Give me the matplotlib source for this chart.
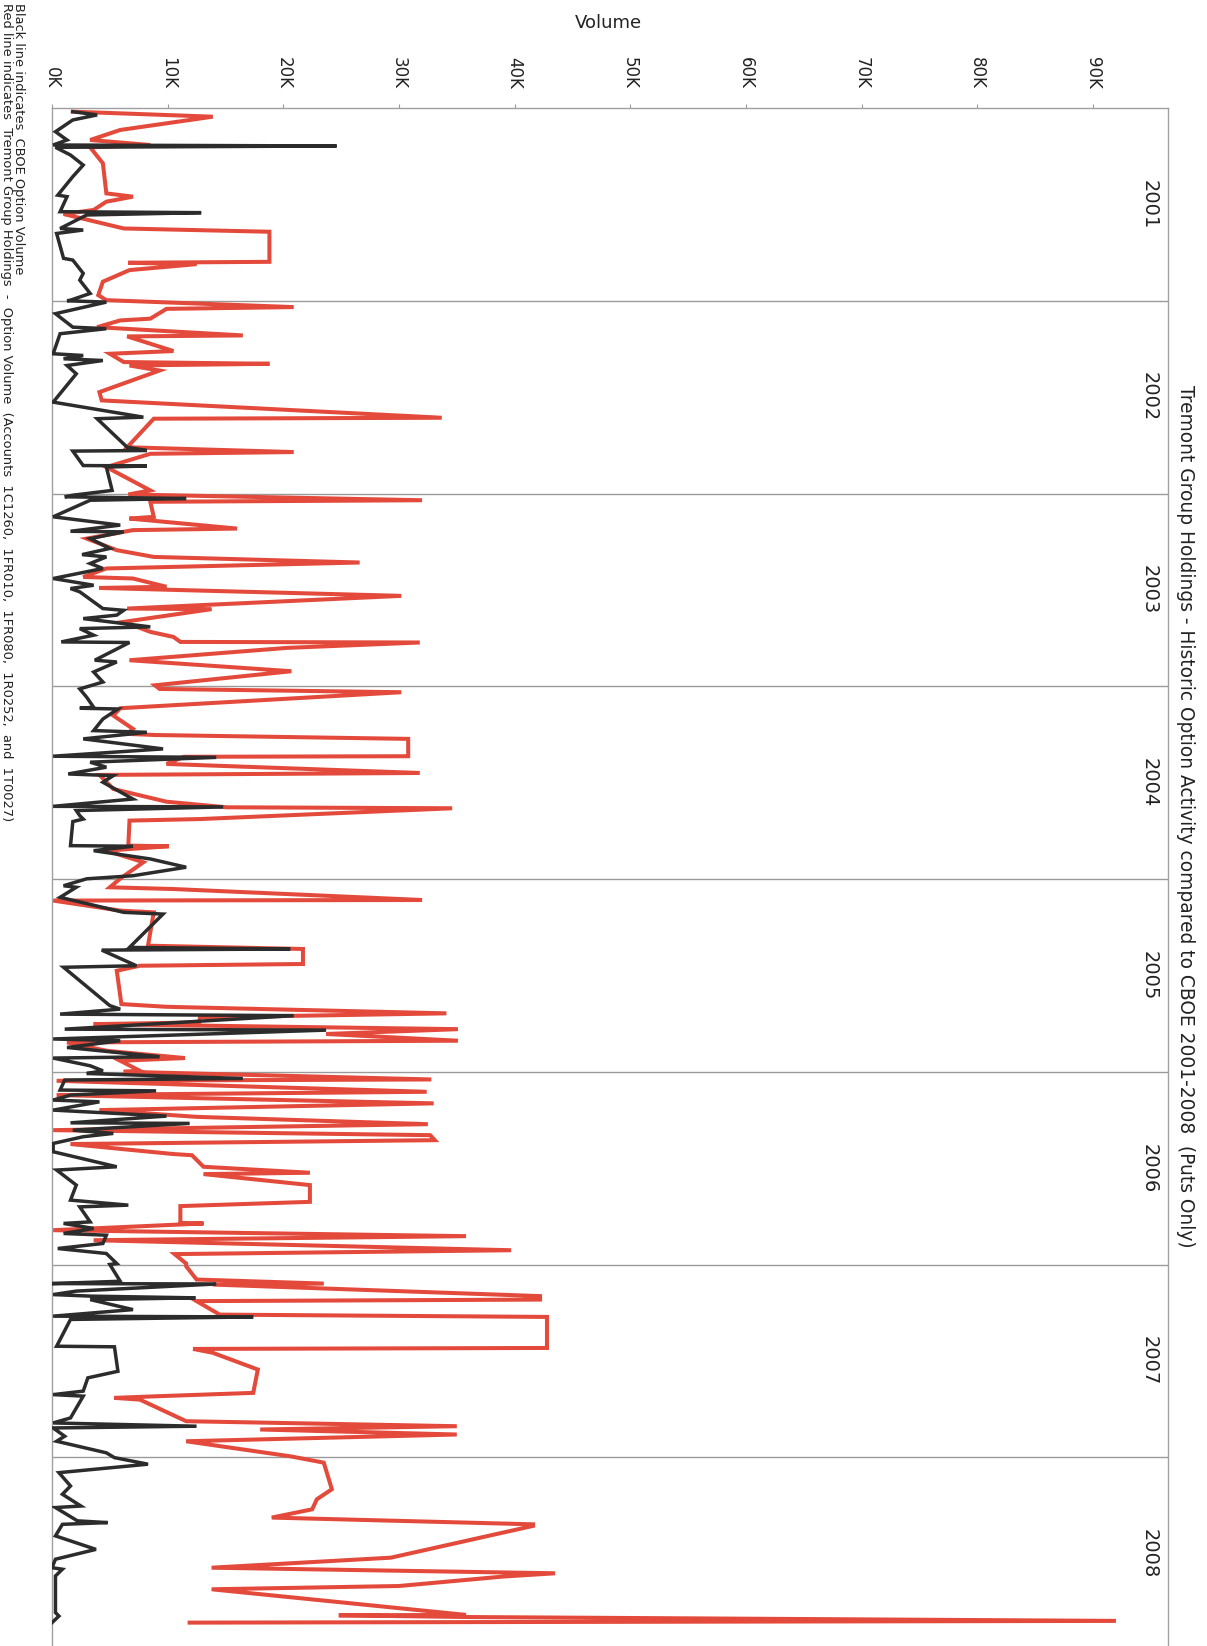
import matplotlib
matplotlib.use("Agg")
import matplotlib.pyplot as plt
import matplotlib.transforms as mtransforms

# Tremont option volume (red) - decimal year / contracts
red_t = [
    2001.019, 2001.045, 2001.114, 2001.166, 2001.192, 2001.204, 2001.287, 2001.443, 2001.460, 2001.486,
    2001.529, 2001.550, 2001.625, 2001.642, 2001.798, 2001.803, 2001.810, 2001.841, 2001.901, 2001.971, 2001.997,
    2002.033, 2002.042, 2002.093, 2002.102, 2002.137, 2002.180, 2002.185, 2002.261, 2002.275, 2002.318,
    2002.327, 2002.336, 2002.362, 2002.474, 2002.517, 2002.607, 2002.612, 2002.760, 2002.785, 2002.794,
    2002.863, 2002.984,
    2003.005, 2003.035, 2003.043, 2003.121, 2003.130, 2003.182, 2003.190, 2003.234, 2003.294, 2003.329,
    2003.358, 2003.389, 2003.433, 2003.441, 2003.484, 2003.490, 2003.531, 2003.597, 2003.600, 2003.666,
    2003.718, 2003.744, 2003.770, 2003.773, 2003.801, 2003.865, 2003.922, 2003.995,
    2004.014, 2004.031, 2004.114, 2004.152, 2004.221, 2004.247, 2004.253, 2004.273, 2004.363, 2004.366,
    2004.403, 2004.450, 2004.460, 2004.533, 2004.599, 2004.628, 2004.633, 2004.689, 2004.697, 2004.827,
    2004.830, 2004.853, 2004.913, 2004.998,
    2005.043, 2005.052, 2005.109, 2005.112, 2005.164, 2005.173, 2005.346, 2005.363, 2005.441, 2005.450,
    2005.476, 2005.649, 2005.663, 2005.697, 2005.718, 2005.744, 2005.753, 2005.779, 2005.804, 2005.839,
    2005.848, 2005.891, 2005.929, 2005.943, 2005.995,
    2006.000, 2006.040, 2006.047, 2006.104, 2006.121, 2006.164, 2006.199, 2006.234, 2006.272, 2006.303,
    2006.329, 2006.355, 2006.375, 2006.427, 2006.433, 2006.493, 2006.524, 2006.531, 2006.588, 2006.675,
    2006.697, 2006.784, 2006.787, 2006.822, 2006.853, 2006.874, 2006.926, 2006.946, 2006.995,
    2007.009, 2007.078, 2007.099, 2007.104, 2007.164, 2007.182, 2007.190, 2007.260, 2007.272, 2007.433,
    2007.438, 2007.458, 2007.545, 2007.666, 2007.683, 2007.692, 2007.701, 2007.813, 2007.839, 2007.856,
    2007.882, 2007.917, 2007.995,
    2008.028, 2008.166, 2008.218, 2008.270, 2008.313, 2008.348, 2008.356, 2008.521, 2008.573, 2008.602,
    2008.619, 2008.668, 2008.685, 2008.818, 2008.820, 2008.829, 2008.849, 2008.858,
]
red_v = [
    1800, 13900, 5900, 3300, 8500, 3300, 4400, 4700, 7000, 4700,
    3600, 1000, 6200, 18800, 18800, 6600, 12500, 6700, 4400, 4000, 4700,
    20900, 9900, 8500, 5900, 3900, 16500, 6500, 10500, 5000, 6200,
    18800, 6700, 9300, 4100, 4300, 33700, 8800, 6500, 20900, 8500,
    4700, 8500,
    6600, 32000, 8500, 8800, 6700, 16000, 7000, 3000, 5600, 8800,
    26600, 4700, 2700, 7000, 9900, 4100, 30200, 6500, 13800, 6200,
    8500, 10500, 11100, 31800, 20300, 6700, 20700, 8900,
    9300, 30200, 5900, 5300, 7000, 6500, 8900, 30800, 30800, 11400,
    9900, 31800, 4100, 5300, 9900, 15100, 34600, 12800, 6700, 6600,
    10100, 4700, 7900, 5900,
    5000, 10500, 32000, 100, 5900, 8800, 8300, 21700, 21700, 7600,
    5600, 6000, 9900, 34100, 12800, 12700, 3600, 35100, 23700, 35100,
    1300, 4700, 11500, 5900, 7600,
    6200, 32800, 400, 32400, 400, 33000, 4100, 12500, 32500, 100,
    32700, 33100, 1600, 10500, 12100, 13100, 22300, 13100, 22300, 22300,
    11100, 11100, 13100, 100, 35800, 3600, 39700, 10600, 11600,
    11600, 12500, 23500, 13900, 42200, 42200, 12500, 14500, 42800, 42800,
    12200, 13900, 17800, 17400, 9300, 5400, 7600, 11600, 35000, 18000,
    35000, 11600, 20600,
    23500, 24200, 22900, 22500, 19000, 41600, 41600, 29300, 13800, 43500,
    39000, 30000, 13800, 35800, 24800, 36100, 92000, 11900,
]

# CBOE option volume (black)
black_t = [
    2001.019, 2001.036, 2001.062, 2001.123, 2001.166, 2001.192, 2001.197, 2001.204, 2001.244, 2001.296,
    2001.356, 2001.452, 2001.460, 2001.538, 2001.543, 2001.555, 2001.625, 2001.633, 2001.651, 2001.780,
    2001.789, 2001.858, 2001.893, 2001.962, 2001.997,
    2002.000, 2002.007, 2002.067, 2002.137, 2002.145, 2002.171, 2002.275, 2002.284, 2002.301, 2002.310,
    2002.336, 2002.379, 2002.526, 2002.604, 2002.612, 2002.760, 2002.777, 2002.780, 2002.855, 2002.857,
    2002.863, 2002.984,
    2003.009, 2003.017, 2003.026, 2003.035, 2003.121, 2003.164, 2003.196, 2003.199, 2003.234, 2003.285,
    2003.317, 2003.329, 2003.363, 2003.389, 2003.441, 2003.476, 2003.493, 2003.510, 2003.597, 2003.606,
    2003.631, 2003.649, 2003.666, 2003.692, 2003.701, 2003.735, 2003.770, 2003.773, 2003.865, 2003.874,
    2003.926, 2003.978,
    2004.014, 2004.057, 2004.109, 2004.114, 2004.118, 2004.170, 2004.230, 2004.239, 2004.273, 2004.325,
    2004.363, 2004.369, 2004.394, 2004.420, 2004.455, 2004.464, 2004.498, 2004.585, 2004.623, 2004.626,
    2004.645, 2004.671, 2004.689, 2004.702, 2004.827, 2004.830, 2004.853, 2004.896, 2004.939, 2004.983,
    2004.999,
    2005.035, 2005.043, 2005.095, 2005.173, 2005.182, 2005.355, 2005.363, 2005.369, 2005.450, 2005.458,
    2005.657, 2005.675, 2005.701, 2005.709, 2005.779, 2005.784, 2005.830, 2005.839, 2005.874, 2005.922,
    2005.929, 2005.969, 2005.995,
    2006.009, 2006.035, 2006.043, 2006.095, 2006.099, 2006.121, 2006.147, 2006.156, 2006.199, 2006.230,
    2006.265, 2006.268, 2006.303, 2006.320, 2006.337, 2006.372, 2006.415, 2006.493, 2006.510, 2006.588,
    2006.666, 2006.692, 2006.701, 2006.779, 2006.787, 2006.813, 2006.839, 2006.848, 2006.891, 2006.917,
    2006.943, 2006.995,
    2007.000, 2007.087, 2007.099, 2007.101, 2007.138, 2007.156, 2007.164, 2007.173, 2007.182, 2007.234,
    2007.268, 2007.272, 2007.285, 2007.424, 2007.427, 2007.554, 2007.588, 2007.657, 2007.675, 2007.683,
    2007.796, 2007.822, 2007.839, 2007.848, 2007.891, 2007.917, 2007.977,
    2008.002, 2008.036, 2008.080, 2008.149, 2008.192, 2008.253, 2008.261, 2008.330, 2008.339, 2008.348,
    2008.408, 2008.434, 2008.478, 2008.529, 2008.573, 2008.581, 2008.616, 2008.806, 2008.824, 2008.858,
]
black_v = [
    1800, 3900, 1800, 300, 1300, 100, 24600, 300, 1600, 2700,
    1800, 500, 1300, 700, 12900, 3000, 700, 2700, 400, 1000,
    1800, 2700, 2400, 3300, 1600,
    1300, 4700, 300, 1800, 4700, 700, 100, 2700, 1000, 4400,
    1300, 2100, 100, 7900, 3900, 6500, 8200, 1800, 2700, 8200,
    4700, 5200,
    1800, 1100, 11600, 3300, 100, 5900, 1600, 6200, 3300, 5000,
    2600, 4700, 3300, 4400, 100, 3600, 1600, 2400, 4400, 6200,
    5600, 2700, 5000, 8500, 2400, 3600, 800, 6700, 3700, 5600,
    3600, 4400,
    2400, 3000, 3600, 2400, 5700, 4400, 3600, 8200, 2700, 9600,
    100, 14200, 3300, 4700, 1400, 5300, 4400, 7000, 100, 14800,
    2100, 2400, 2700, 1800, 1600, 7000, 3600, 8500, 11600, 7000,
    3000,
    1000, 2100, 700, 6200, 9600, 6700, 20600, 4300, 7300, 1000,
    5000, 5900, 700, 20900, 1100, 23700, 100, 5900, 1300, 9300,
    100, 3300, 4400,
    3000, 16500, 1100, 700, 9000, 1600, 100, 4100, 100, 9900,
    1600, 11900, 1800, 5300, 2700, 100, 100, 5600, 400, 2100,
    1600, 6600, 2400, 3300, 1000, 3600, 1000, 4700, 4400, 500,
    4700, 5600,
    5000, 5900, 0, 14200, 2100, 100, 3300, 12400, 3300, 7000,
    100, 17400, 1600, 400, 5400, 5700, 3100, 2700, 100, 2700,
    1600, 100, 12500, 100, 1100, 400, 4700,
    5400, 8300, 600, 1600, 900, 2500, 300, 2200, 4800, 900,
    300, 1600, 3800, 300, 0, 900, 300, 300, 600, 0,
]

years = [2001, 2002, 2003, 2004, 2005, 2006, 2007, 2008]
volume_ticks = [0, 10000, 20000, 30000, 40000, 50000, 60000, 70000, 80000, 90000]
volume_labels = ["0K", "10K", "20K", "30K", "40K", "50K", "60K", "70K", "80K", "90K"]

W, H = 1207, 1646
fig = plt.figure(figsize=(W / 100, H / 100), dpi=100)
ax = fig.add_axes([52 / W, 1 - 1650 / H, 1116 / W, 1542 / H])

ax.plot(red_v, red_t, color="#e34a3b", lw=2.9, solid_joinstyle="miter", zorder=2)
ax.plot(black_v, black_t, color="#2c2c2c", lw=2.5, solid_joinstyle="miter", zorder=3)

ax.set_xlim(0, 96500)
ax.set_ylim(2009, 2001)

# year separators and labels
for y in years[1:]:
    ax.axhline(y, color="#9a9a9a", lw=1.0, zorder=1)
trans = mtransforms.blended_transform_factory(ax.transAxes, ax.transData)
for y in years:
    ax.text(0.983, y + 0.5, str(y), transform=trans, rotation=-90,
            ha="center", va="center", fontsize=14, color="#222222")

ax.xaxis.tick_top()
ax.set_xticks(volume_ticks)
ax.set_xticklabels(volume_labels, rotation=-90, fontsize=12, color="#222222")
ax.tick_params(axis="x", direction="out", length=3, width=0.8, color="#999999", pad=11)
ax.set_yticks([])
for side in ["top", "left", "right", "bottom"]:
    ax.spines[side].set_color("#a0a0a0")
    ax.spines[side].set_linewidth(1.0)

fig.text(608 / W, 1 - 23 / H, "Volume", ha="center", va="center", fontsize=13, color="#222222")
fig.text(1185 / W, 1 - 816 / H,
         "Tremont Group Holdings - Historic Option Activity compared to CBOE 2001-2008  (Puts Only)",
         rotation=-90, ha="center", va="center", fontsize=13.4, color="#222222")
fig.text(6 / W, 1 - 3 / H,
         "Red line indicates  Tremont Group Holdings  -  Option Volume  (Accounts  1C1260,  1FR010,  1FR080,  1R0252,  and  1T0027)",
         rotation=-90, ha="center", va="top", fontsize=9.4, color="#222222")
fig.text(18.5 / W, 1 - 3 / H, "Black line indicates  CBOE Option Volume",
         rotation=-90, ha="center", va="top", fontsize=9.4, color="#222222")

fig.savefig("out.png", dpi=100)
